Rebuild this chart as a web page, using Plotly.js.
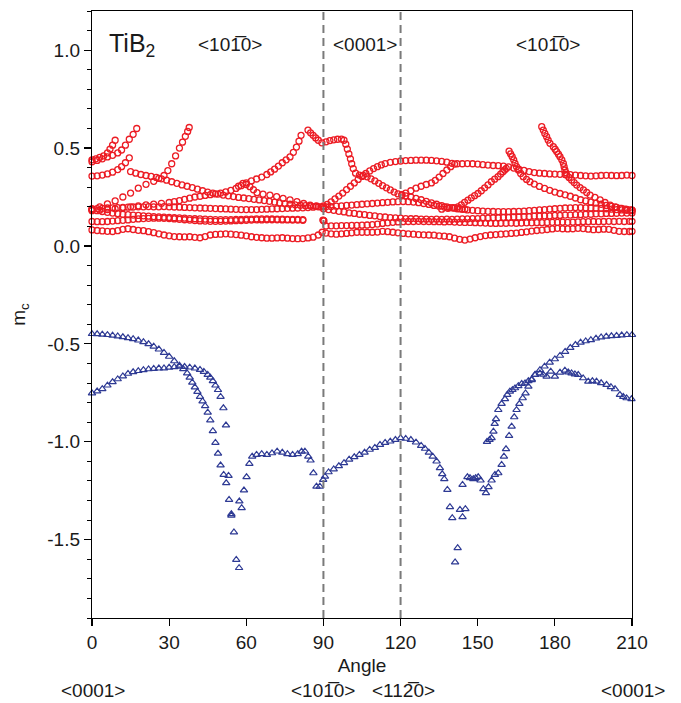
<!DOCTYPE html>
<html>
<head>
<meta charset="utf-8">
<script src="https://cdn.plot.ly/plotly-3.0.1.min.js"></script>
<style>html,body{margin:0;padding:0;background:#fff;}#chart{width:681px;height:703px;}</style>
</head>
<body>
<div id="chart"></div>
<script>
// ---------- DATA ----------
const xTickVals = [0, 30, 60, 90, 120, 150, 180, 210];
const xTickText = ['0', '30', '60', '90', '120', '150', '180', '210'];
const yTickVals = [-1.5, -1.0, -0.5, 0.0, 0.5, 1.0];
const yTickText = ['-1.5', '-1.0', '-0.5', '0.0', '0.5', '1.0'];
const dashedAngles = [90, 120];

// red (open circles) branches, [angle, m_c]
const redBottom = [[0,0.082],[2,0.079],[4,0.077],[6,0.075],[8,0.074],[10,0.078],[12,0.085],[14,0.088],[16,0.084],[18,0.080],[20,0.078],[22,0.073],[24,0.068],[26,0.062],[28,0.056],[30,0.052],[32,0.048],[34,0.047],[36,0.046],[38,0.047],[40,0.044],[42,0.042],[44,0.048],[46,0.056],[48,0.059],[50,0.060],[52,0.062],[54,0.060],[56,0.058],[58,0.055],[60,0.052],[62,0.047],[64,0.044],[66,0.042],[68,0.040],[70,0.040],[72,0.041],[74,0.042],[76,0.040],[78,0.038],[80,0.037],[82,0.038],[84,0.041],[86,0.045],[88,0.056],[89.5,0.070],[91,0.066],[93,0.062],[95,0.060],[97,0.062],[99,0.064],[101,0.067],[103,0.070],[105,0.070],[107,0.070],[109,0.070],[111,0.071],[113,0.075],[115,0.073],[117,0.070],[119,0.067],[121,0.064],[123,0.062],[125,0.060],[127,0.058],[129,0.057],[131,0.056],[133,0.055],[135,0.052],[137,0.050],[139,0.047],[141,0.040],[143,0.034],[145,0.030],[147,0.035],[149,0.042],[151,0.048],[153,0.053],[155,0.056],[157,0.058],[159,0.060],[161,0.062],[163,0.064],[165,0.066],[167,0.069],[169,0.072],[171,0.076],[173,0.079],[175,0.081],[177,0.084],[179,0.087],[181,0.090],[183,0.088],[185,0.087],[187,0.088],[189,0.090],[191,0.089],[193,0.086],[195,0.083],[197,0.084],[199,0.086],[201,0.085],[203,0.080],[205,0.075],[207,0.074],[209,0.074],[210,0.075]];
const redLowLeft = [[0,0.125],[2,0.124],[4,0.124],[6,0.125],[8,0.127],[10,0.129],[12,0.131],[14,0.133],[16,0.136],[18,0.138],[20,0.140],[22,0.141],[24,0.142],[26,0.142],[28,0.141],[30,0.140],[32,0.138],[34,0.136],[36,0.134],[38,0.132],[40,0.130],[42,0.128],[44,0.127],[46,0.126],[48,0.126],[50,0.126],[52,0.127],[54,0.128],[56,0.129],[58,0.130],[60,0.131],[62,0.132],[64,0.133],[66,0.133],[68,0.134],[70,0.134],[72,0.134],[74,0.133],[76,0.133],[78,0.132],[80,0.132],[82,0.131],[89.8,0.132],[90,0.130],[90.2,0.128]];
const redLowRight = [[91,0.102],[93,0.103],[95,0.103],[97,0.104],[99,0.104],[101,0.105],[103,0.105],[105,0.106],[107,0.107],[109,0.109],[111,0.112],[113,0.115],[115,0.118],[117,0.121],[119,0.123],[121,0.124],[123,0.125],[125,0.125],[127,0.126],[129,0.125],[131,0.125],[133,0.124],[135,0.124],[137,0.123],[139,0.124],[141,0.122],[143,0.121],[145,0.120],[147,0.120],[149,0.119],[151,0.118],[153,0.117],[155,0.116],[157,0.115],[159,0.116],[161,0.116],[163,0.117],[165,0.116],[167,0.117],[169,0.118],[171,0.118],[173,0.119],[175,0.119],[177,0.120],[179,0.121],[181,0.121],[183,0.122],[185,0.121],[187,0.122],[189,0.123],[191,0.124],[193,0.124],[195,0.125],[197,0.124],[199,0.125],[201,0.126],[203,0.125],[205,0.126],[207,0.125],[209,0.126],[210,0.126]];
const redMidLeft = [[0,0.185],[2,0.180],[4,0.176],[6,0.172],[8,0.168],[10,0.165],[12,0.162],[14,0.160],[16,0.158],[18,0.156],[20,0.154],[22,0.152],[24,0.150],[26,0.149],[28,0.147],[30,0.146],[32,0.144],[34,0.143],[36,0.142],[38,0.140],[40,0.139],[42,0.138],[44,0.137],[46,0.136],[48,0.135],[50,0.135],[52,0.135],[54,0.135],[56,0.136],[58,0.136],[60,0.137],[62,0.137],[64,0.138],[66,0.138],[68,0.138],[70,0.138],[72,0.137],[74,0.137],[76,0.136],[78,0.136],[80,0.136],[82,0.135]];
const redMidRight = [[90,0.190],[92,0.186],[94,0.182],[96,0.177],[98,0.174],[100,0.169],[102,0.166],[104,0.162],[106,0.160],[108,0.156],[110,0.154],[112,0.150],[114,0.148],[116,0.145],[118,0.143],[120,0.142],[122,0.140],[124,0.139],[126,0.139],[128,0.137],[130,0.137],[132,0.136],[134,0.137],[136,0.136],[138,0.137],[140,0.136],[142,0.137],[144,0.138],[146,0.138],[148,0.140],[150,0.140],[152,0.142],[154,0.142],[156,0.144],[158,0.144],[160,0.146],[162,0.146],[164,0.148],[166,0.148],[168,0.150],[170,0.150],[172,0.152],[174,0.152],[176,0.154],[178,0.154],[180,0.156],[182,0.156],[184,0.158],[186,0.158],[188,0.160],[190,0.160],[192,0.162],[194,0.162],[196,0.164],[198,0.164],[200,0.166],[202,0.166],[204,0.167],[206,0.168],[208,0.168],[210,0.169]];
const redTop = [[0,0.190],[2,0.191],[4,0.192],[6,0.194],[8,0.195],[10,0.196],[12,0.197],[14,0.198],[16,0.199],[18,0.200],[20,0.200],[22,0.201],[24,0.200],[26,0.200],[28,0.201],[30,0.200],[32,0.199],[34,0.198],[36,0.197],[38,0.196],[40,0.195],[42,0.194],[44,0.193],[46,0.192],[48,0.191],[50,0.190],[52,0.189],[54,0.188],[56,0.187],[58,0.186],[60,0.186],[62,0.186],[64,0.186],[66,0.187],[68,0.188],[70,0.189],[72,0.190],[74,0.191],[76,0.192],[78,0.193],[80,0.194],[82,0.195],[84,0.196],[86,0.198],[88,0.200],[90,0.205],[91.5,0.212],[93,0.225],[94.5,0.240],[96,0.255],[97.5,0.270],[99,0.288],[100.5,0.305],[102,0.322],[103.5,0.340],[105,0.355],[106.5,0.370],[108,0.383],[109.5,0.395],[111,0.405],[112.5,0.414],[114,0.421],[116,0.427],[118,0.431],[120,0.434],[122,0.436],[124,0.437],[126,0.438],[128,0.438],[130,0.438],[132,0.437],[134,0.435],[136,0.432],[138,0.428],[140,0.422],[142,0.420],[144,0.420],[146,0.421],[148,0.420],[150,0.418],[152,0.415],[154,0.413],[156,0.411],[158,0.410],[160,0.408],[162,0.404],[164,0.398],[166,0.392],[168,0.386],[170,0.380],[172,0.375],[174,0.372],[176,0.370],[178,0.368],[180,0.367],[182,0.366],[184,0.365],[186,0.364],[188,0.362],[190,0.360],[192,0.358],[194,0.357],[196,0.358],[198,0.360],[200,0.361],[202,0.360],[204,0.359],[206,0.360],[208,0.362],[210,0.360]];
const redFall = [[15,0.380],[17,0.372],[19,0.365],[21,0.360],[23,0.355],[25,0.350],[27,0.343],[29,0.336],[31,0.328],[33,0.320],[35,0.312],[37,0.305],[39,0.298],[41,0.290],[43,0.282],[45,0.275],[47,0.270],[49,0.265],[51,0.260],[53,0.256],[55,0.252],[57,0.248],[59,0.245],[61,0.242],[63,0.238],[65,0.235],[67,0.232],[69,0.228],[71,0.224],[73,0.220],[75,0.216],[77,0.213],[79,0.210],[81,0.208],[83,0.206],[85,0.204],[87,0.202],[89,0.200],[91,0.200],[93,0.201],[95,0.203],[97,0.205],[99,0.207],[101,0.209],[103,0.211],[105,0.213],[107,0.215],[109,0.217],[111,0.219],[113,0.221],[115,0.223],[117,0.225],[119,0.226],[121,0.227],[123,0.226],[125,0.224],[127,0.221],[129,0.217],[131,0.212],[133,0.207],[135,0.203],[137,0.199],[139,0.196],[141,0.193],[143,0.190],[145,0.188]];
const redRise = [[0,0.180],[3,0.183],[6,0.186],[9,0.190],[12,0.195],[15,0.200],[18,0.205],[21,0.210],[24,0.214],[27,0.218],[30,0.222],[32,0.226],[34,0.232],[36,0.238],[38,0.244],[40,0.250],[42,0.254],[44,0.258],[46,0.262],[48,0.266],[50,0.270],[52,0.276],[54,0.284],[56,0.294],[58,0.308],[60,0.322],[62,0.332],[64,0.342],[66,0.352],[68,0.365],[69.5,0.378],[71,0.392],[72.5,0.408],[74,0.425],[75.5,0.440],[77,0.455],[78.3,0.478],[79.5,0.505],[80.5,0.535],[81.3,0.565]];
const redLoop = [[57,0.305],[58.7,0.320],[60,0.314],[61.4,0.303],[62.8,0.287],[64.2,0.272],[66.5,0.265],[69.2,0.260],[71.8,0.252],[74.3,0.243],[77,0.235],[79.7,0.226],[82.3,0.217],[84.8,0.209],[87.3,0.204],[89.8,0.200]];
const redSteepL = [[0,0.185],[3,0.200],[6,0.215],[9,0.230],[12,0.250],[15,0.270],[18,0.295],[21,0.315],[24,0.330],[26,0.345],[28,0.360],[29.5,0.385],[31,0.420],[32.5,0.460],[34,0.500],[35.2,0.530],[36.3,0.560],[37.2,0.585],[37.8,0.605]];
const redShortA = [[0,0.440],[1.5,0.445],[3,0.452],[4.5,0.460],[6,0.475],[7,0.495],[8,0.515],[9,0.540]];
const redShortB = [[0,0.430],[2,0.437],[4,0.445],[6,0.455],[8,0.463],[10,0.475],[11.5,0.490],[13,0.515],[14.5,0.545],[16,0.570],[17.4,0.600]];
const redShortC = [[0,0.357],[2,0.358],[4,0.362],[6,0.368],[8,0.377],[10,0.390],[11.5,0.405],[13,0.425],[14.5,0.450]];
const redPeak = [[84,0.592],[85,0.578],[86,0.565],[87,0.552],[88,0.540],[89.4,0.527],[91,0.532],[92.5,0.538],[94,0.542],[95.5,0.545],[97,0.546],[98,0.540],[98.7,0.520],[99.3,0.495],[99.9,0.470],[100.5,0.445],[101,0.420],[101.6,0.395],[102.5,0.372],[104,0.362],[105.5,0.360],[107,0.353],[108.5,0.343],[110,0.332],[111.5,0.320],[113,0.308],[114.5,0.297],[116,0.286],[117.5,0.275],[119,0.266],[120.5,0.260],[122,0.256],[124,0.250],[126,0.243],[128,0.236],[130,0.228],[132,0.220],[134,0.213],[136,0.206],[138,0.200],[140,0.195],[142,0.190],[144,0.187],[146,0.184],[148,0.182],[150,0.180],[152,0.178],[154,0.177],[156,0.176],[158,0.175],[160,0.175],[162,0.175],[164,0.176],[166,0.177],[168,0.178],[170,0.180],[172,0.182],[174,0.184],[176,0.186],[178,0.188],[180,0.190],[182,0.192],[184,0.194],[186,0.195],[188,0.196],[190,0.196],[192,0.195],[194,0.194],[196,0.193],[198,0.192],[200,0.190],[202,0.188],[204,0.186],[206,0.184],[208,0.182],[210,0.180]];
const redCross = [[120.5,0.262],[122,0.270],[124,0.282],[126,0.295],[128,0.305],[130,0.314],[132,0.322],[133.5,0.335],[135,0.352],[136.5,0.370],[138,0.388],[139.5,0.405],[141,0.418]];
const redRiseR = [[136,0.188],[138.4,0.192],[140.5,0.196],[142.3,0.200],[143.6,0.210],[144.9,0.223],[146.2,0.234],[147.5,0.246],[148.8,0.257],[150.1,0.268],[151.4,0.282],[152.7,0.297],[154,0.312],[155.3,0.328],[156.6,0.341],[157.9,0.354],[158.9,0.367],[159.8,0.379],[160.5,0.388],[161.1,0.396]];
const redShortR = [[162.2,0.484],[162.8,0.470],[163.4,0.456],[164,0.440],[164.5,0.422],[165.1,0.405],[165.8,0.388],[166.7,0.370],[167.7,0.354],[169,0.340],[170.3,0.328],[172,0.316],[174,0.304],[176,0.294],[178,0.284],[180,0.275],[182,0.268],[184,0.261],[186,0.254],[188,0.245],[190,0.236],[192,0.230],[194,0.224],[196,0.219],[198,0.213],[200,0.207],[202,0.202],[204,0.197],[206,0.192],[208,0.187],[210,0.183]];
const redSteepR = [[174.9,0.609],[175.5,0.592],[176.1,0.575],[176.8,0.558],[177.4,0.541],[178.1,0.524],[179.4,0.507],[180.1,0.494],[180.7,0.482],[181.4,0.469],[182,0.456],[182.7,0.440],[183.3,0.422],[183.6,0.405],[183.9,0.388],[184.3,0.375],[184.6,0.362],[185.5,0.350],[186.5,0.337],[187.5,0.324],[188.5,0.311],[189.8,0.298],[191.1,0.286],[192.4,0.273],[193.7,0.260],[195.6,0.248],[197.6,0.235],[199.5,0.222],[201.5,0.209],[203.5,0.200],[205.4,0.192],[207.4,0.188],[209.3,0.184],[210,0.183]];

// blue (open triangles) branches, [angle, m_c]
const blueUpper = [[0,-0.449],[2,-0.450],[4,-0.452],[6,-0.454],[8,-0.457],[10,-0.461],[12,-0.465],[14,-0.470],[16,-0.475],[18,-0.482],[20,-0.490],[22,-0.501],[24,-0.513],[26,-0.528],[28,-0.545],[30,-0.565],[32,-0.588],[34,-0.610],[35.5,-0.628],[37,-0.650],[38,-0.672],[39,-0.697],[40,-0.722],[41,-0.745],[42,-0.770],[43,-0.793],[44,-0.817],[45,-0.850],[46,-0.890],[47,-0.945],[48,-1.005],[49,-1.060],[50,-1.120],[51.2,-1.168],[52.2,-1.211],[53.3,-1.296],[54.2,-1.369],[55.2,-1.462],[56.1,-1.602],[57.2,-1.644]];
const blueLower = [[0,-0.752],[2,-0.742],[4,-0.730],[6,-0.712],[8,-0.695],[10,-0.680],[12,-0.665],[14,-0.652],[16,-0.644],[18,-0.638],[20,-0.633],[22,-0.629],[24,-0.627],[26,-0.625],[28,-0.624],[30,-0.621],[32,-0.618],[34,-0.616],[36,-0.617],[38,-0.620],[40,-0.625],[42,-0.632],[43.5,-0.642],[45,-0.658],[46,-0.672],[47,-0.690],[48,-0.712],[49,-0.735],[50,-0.770],[51.1,-0.828],[52.1,-0.916],[53.1,-1.173],[54.2,-1.377]];
const blueMid = [[57.3,-1.304],[58.2,-1.338],[59.1,-1.248],[60.1,-1.180],[61.2,-1.112],[62.3,-1.075],[64,-1.066],[66,-1.062],[68,-1.066],[70,-1.058],[72,-1.049],[74,-1.055],[76,-1.062],[78,-1.066],[80,-1.062],[81.5,-1.050],[82.8,-1.049],[84.1,-1.075],[85,-1.095],[86.1,-1.160],[87.3,-1.228],[88.6,-1.228],[89.9,-1.194],[90.6,-1.177],[92,-1.155],[94,-1.140],[96,-1.124],[98,-1.108],[100,-1.090],[102,-1.078],[104,-1.066],[106,-1.055],[108,-1.040],[110,-1.030],[112,-1.015],[114,-1.005],[116,-0.998],[118,-0.990],[120,-0.981],[122,-0.984],[124,-0.990],[126,-1.003],[128,-1.020],[129.5,-1.035],[131,-1.055],[132.5,-1.075],[134,-1.100],[135.3,-1.134],[136.2,-1.165],[137,-1.190],[138.2,-1.245],[139.2,-1.333],[140.1,-1.389],[141.2,-1.615]];
const blueRight1 = [[142.2,-1.542],[143.1,-1.347],[144.1,-1.384],[144.1,-1.219],[145.2,-1.343],[146,-1.180],[147,-1.185],[148.3,-1.190],[149.2,-1.185],[150.2,-1.180],[151.1,-1.197],[152.2,-1.241],[153.2,-1.262],[154.2,-1.231],[155.4,-1.197],[156.7,-1.168],[158,-1.160],[159.3,-1.117],[160.2,-1.075],[161,-1.037],[162.2,-0.969],[163.2,-0.922],[164.2,-0.874],[165.1,-0.837],[166.2,-0.806],[167.5,-0.777],[168.6,-0.752],[169.7,-0.718],[171,-0.684],[172.3,-0.658],[174.2,-0.633],[176,-0.615],[178,-0.595],[180,-0.578],[182,-0.560],[184,-0.540],[186,-0.520],[188,-0.505],[190,-0.493],[192,-0.486],[194,-0.480],[196,-0.472],[198,-0.466],[200,-0.462],[202,-0.460],[204,-0.458],[206,-0.456],[208,-0.454],[210,-0.454]];
const blueRight2 = [[153.6,-1.000],[154.6,-0.990],[155.4,-0.981],[156.1,-0.947],[156.6,-0.908],[157.1,-0.884],[158,-0.837],[159.3,-0.806],[160.6,-0.782],[161.5,-0.760],[162.5,-0.743],[163.5,-0.735],[164.5,-0.726],[165.8,-0.715],[167.1,-0.704],[168.4,-0.701],[169.7,-0.690],[171,-0.680],[172.3,-0.658],[174.2,-0.650],[175.5,-0.657],[176.8,-0.667],[178.4,-0.641],[180,-0.667],[182,-0.646],[183.9,-0.636],[185.2,-0.645],[186.5,-0.650],[187.8,-0.655],[189.1,-0.658],[191,-0.675],[193,-0.692],[194.6,-0.690],[196.2,-0.692],[198,-0.700],[200.1,-0.709],[201.8,-0.720],[203.4,-0.731],[205.3,-0.760],[206.6,-0.770],[207.9,-0.777],[209.8,-0.782]];

const redBranches = [redBottom, redLowLeft, redLowRight, redMidLeft, redMidRight, redTop, redFall, redRise, redLoop, redSteepL, redShortA, redShortB, redShortC, redPeak, redCross, redRiseR, redShortR, redSteepR];
const blueBranches = [blueUpper, blueLower, blueMid, blueRight1, blueRight2];

// ---------- CHART ----------
const FONT = 'Liberation Sans, Arial, Helvetica, sans-serif';
const RED = '#ec1c24';
const BLUE = '#2e3a94';

function toTrace(branches, marker) {
  const xs = [], ys = [];
  branches.forEach(b => b.forEach(p => { xs.push(p[0]); ys.push(p[1]); }));
  return {x: xs, y: ys, type: 'scatter', mode: 'markers', marker: marker, cliponaxis: false, hoverinfo: 'x+y', showlegend: false};
}

const traces = [
  toTrace(redBranches, {symbol: 'circle-open', size: 6, color: RED, line: {width: 1.3, color: RED}}),
  toTrace(blueBranches, {symbol: 'triangle-up-open', size: 6.5, color: BLUE, line: {width: 1.2, color: BLUE}})
];

const OVER = '\u0305';
const dir1010 = '&lt;101' + OVER + '0&gt;';
const dir1120 = '&lt;112' + OVER + '0&gt;';

const annFont = {family: FONT, size: 19, color: '#1a1a1a'};
function ann(text, x, y, extra) {
  return Object.assign({text: text, x: x, y: y, xref: 'x', yref: 'paper', xanchor: 'center', yanchor: 'middle', showarrow: false, font: annFont}, extra || {});
}
const annotations = [
  ann('TiB<sub>2</sub>', 5.8, 0.944, {xanchor: 'left', font: {family: FONT, size: 25, color: '#1a1a1a'}}),
  ann(dir1010, 53.7, 0.944),
  ann('&lt;0001&gt;', 106, 0.944),
  ann(dir1010, 177.3, 0.944),
  ann('&lt;0001&gt;', 0.5, -0.119),
  ann(dir1010, 89.8, -0.119),
  ann(dir1120, 121.2, -0.119),
  ann('&lt;0001&gt;', 210, -0.119, {xshift: 1})
];

const shapes = dashedAngles.map(a => ({type: 'line', xref: 'x', yref: 'paper', x0: a, x1: a, y0: 0, y1: 1, line: {color: '#7a7a7a', width: 2, dash: '8px,5px'}}));

const layout = {
  width: 681, height: 703,
  margin: {l: 92, r: 49, t: 11, b: 85},
  paper_bgcolor: '#ffffff', plot_bgcolor: '#ffffff',
  font: {family: FONT, size: 19, color: '#1a1a1a'},
  xaxis: {
    range: [0, 210], tickmode: 'array', tickvals: xTickVals, ticktext: xTickText,
    ticks: 'outside', ticklen: 7, tickwidth: 1.2, tickcolor: '#000',
    showline: true, linecolor: '#000', linewidth: 1.2, mirror: true,
    showgrid: false, zeroline: false, tickfont: {family: FONT, size: 19, color: '#1a1a1a'},
    title: {text: 'Angle', font: {family: FONT, size: 19, color: '#1a1a1a'}, standoff: 6}
  },
  yaxis: {
    range: [-1.9, 1.2], tickmode: 'array', tickvals: yTickVals, ticktext: yTickText,
    ticks: 'outside', ticklen: 7, tickwidth: 1.2, tickcolor: '#000',
    minor: {tickmode: 'linear', tick0: 0, dtick: 0.1, ticks: 'outside', ticklen: 4, tickwidth: 1, tickcolor: '#000', showgrid: false},
    showline: true, linecolor: '#000', linewidth: 1.2, mirror: true,
    showgrid: false, zeroline: false, tickfont: {family: FONT, size: 19, color: '#1a1a1a'},
    title: {text: 'm<sub>c</sub>', font: {family: FONT, size: 19, color: '#1a1a1a'}, standoff: 16}
  },
  shapes: shapes,
  annotations: annotations
};

Plotly.newPlot('chart', traces, layout, {displayModeBar: false, staticPlot: true});
</script>
</body>
</html>
